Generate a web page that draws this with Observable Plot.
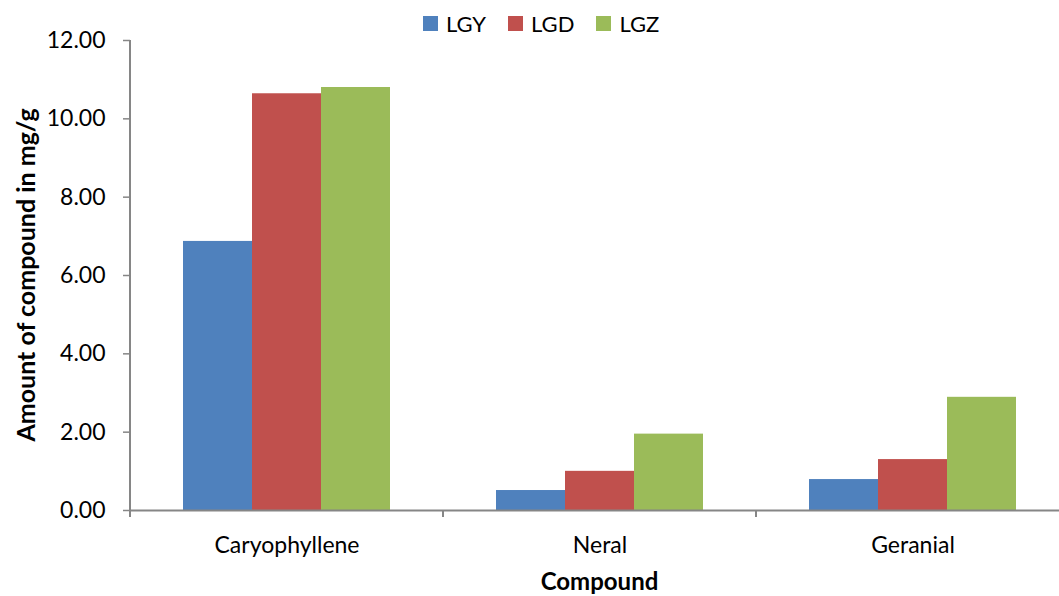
<!DOCTYPE html>
<html>
<head>
<meta charset="utf-8">
<script src="https://cdn.jsdelivr.net/npm/d3@7"></script>
<script src="https://cdn.jsdelivr.net/npm/@observablehq/plot@0.6"></script>
<style>
  html, body { margin: 0; padding: 0; background: #fff; overflow: hidden; width: 1059px; height: 596px; }
  #wrap { position: relative; width: 1059px; height: 596px; overflow: hidden; font-family: Lato, "Open Sans", sans-serif; }
  #legend { position: absolute; top: 10px; left: 423px; display: flex; font-size: 22px; color: #000; }
  #legend .item { display: flex; align-items: center; margin-right: 22px; }
  #legend .sw { width: 15px; height: 15px; margin-right: 8px; }
</style>
</head>
<body>
<div id="wrap"><div id="legend"></div></div>
<script>
const compounds = ["Caryophyllene", "Neral", "Geranial"];
const seriesNames = ["LGY", "LGD", "LGZ"];
const colors = ["#4F81BD", "#C0504D", "#9BBB59"];
const LGY = [6.87, 0.51, 0.79];
const LGD = [10.64, 1.00, 1.30];
const LGZ = [10.80, 1.95, 2.89];
const yTicks = [0, 2, 4, 6, 8, 10, 12];

const valuesBySeries = {LGY, LGD, LGZ};
const data = [];
compounds.forEach((c, i) => seriesNames.forEach(s => data.push({compound: c, series: s, value: valuesBySeries[s][i]})));

const font = "Lato, 'Open Sans', sans-serif";
const axisGray = "#868686";

const plot = Plot.plot({
  width: 1069,
  height: 596,
  marginLeft: 130,
  marginRight: 0,
  marginTop: 40,
  marginBottom: 86,
  style: {fontFamily: font, fontSize: "22px", color: "#000", background: "transparent"},
  fx: {domain: compounds, padding: 0, label: null},
  x: {domain: seriesNames, paddingInner: 0, paddingOuter: 0.768, axis: null},
  y: {domain: [0, 12], ticks: yTicks},
  color: {domain: seriesNames, range: colors},
  marks: [
    Plot.barY(data, {fx: "compound", x: "series", y: "value", fill: "series", inset: 0}),
    Plot.ruleY([0], {stroke: axisGray, strokeWidth: 2}),
    Plot.axisY({ticks: yTicks, tickFormat: d => d.toFixed(2), tickSize: 7, tickPadding: 18, stroke: axisGray, strokeWidth: 1.5, fontSize: 23, label: null}),
    Plot.axisFx({anchor: "bottom", tickSize: 0, tickPadding: 26, fontSize: 23, label: null}),
  ]
});
plot.style.maxWidth = "none";
plot.setAttribute("width", 1069);
plot.style.width = "1069px";
plot.style.height = "596px";

const svg = d3.select(plot);
const fx = plot.scale("fx");
const y = plot.scale("y");
// y axis line
svg.append("line")
  .attr("x1", fx.range[0]).attr("x2", fx.range[0])
  .attr("y1", y.apply(12)).attr("y2", y.apply(0))
  .attr("stroke", axisGray).attr("stroke-width", 2);
// category boundary ticks on x axis
const bw = fx.bandwidth;
const bounds = [fx.apply(compounds[0])].concat(compounds.map(c => fx.apply(c) + bw));
bounds.forEach(b => {
  svg.append("line").attr("x1", b).attr("x2", b)
    .attr("y1", y.apply(0)).attr("y2", y.apply(0) + 7)
    .attr("stroke", axisGray).attr("stroke-width", 2);
});
// axis titles
svg.append("text")
  .attr("x", (fx.range[0] + fx.range[1]) / 2).attr("y", 590)
  .attr("text-anchor", "middle").attr("font-weight", "bold").attr("font-size", 24)
  .attr("font-family", font).text("Compound");
svg.append("text")
  .attr("transform", `translate(35, ${(y.apply(0) + y.apply(12)) / 2}) rotate(-90)`)
  .attr("text-anchor", "middle").attr("font-weight", "bold").attr("font-size", 25)
  .attr("font-family", font).text("Amount of compound in mg/g");

const wrap = document.getElementById("wrap");
plot.style.position = "absolute";
plot.style.left = "0px";
plot.style.top = "0px";
wrap.insertBefore(plot, wrap.firstChild);

const legend = d3.select("#legend");
seriesNames.forEach((s, i) => {
  const it = legend.append("div").attr("class", "item");
  it.append("div").attr("class", "sw").style("background", colors[i]);
  it.append("span").text(s);
});
</script>
</body>
</html>
